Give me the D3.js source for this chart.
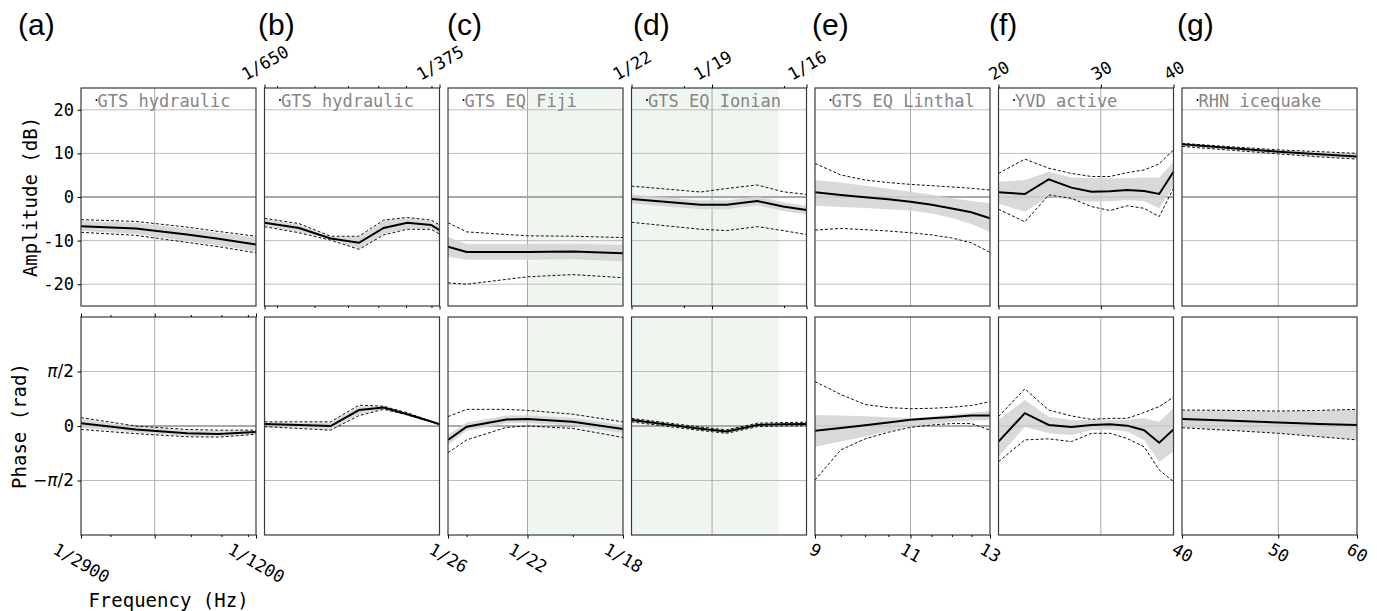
<!DOCTYPE html>
<html>
<head>
<meta charset="utf-8">
<script src="https://cdn.jsdelivr.net/npm/d3@7"></script>
<style>
body { margin: 0; background: #fff; }
svg { font-family: "DejaVu Sans Mono", monospace; }
</style>
</head>
<body>
<script>
// columns
var columnLabels = ["(a)", "(b)", "(c)", "(d)", "(e)", "(f)", "(g)"];
var titles = ["GTS hydraulic", "GTS hydraulic", "GTS EQ Fiji", "GTS EQ Ionian", "GTS EQ Linthal", "YVD active", "RHN icequake"];
var xDomains = [[1/2900, 1/1200], [1/650, 1/375], [1/26, 1/18], [1/22, 1/16], [9, 13], [20, 40], [40, 60]];
var majorTicks = [[1/2900, 1/2000, 1/1200], [1/650, 1/375], [1/26, 1/22, 1/18], [1/22, 1/19, 1/16], [9, 11, 13], [20, 30, 40], [40, 50, 60]];
var majorLabels = [["1/2900", "", "1/1200"], ["1/650", "1/375"], ["1/26", "1/22", "1/18"], ["1/22", "1/19", "1/16"], ["9", "11", "13"], ["20", "30", "40"], ["40", "50", "60"]];
var minorTicks = [[4e-4, 6e-4, 7e-4, 8e-4], [0.0016, 0.0018, 0.002, 0.0022, 0.0024, 0.0026], [0.04, 0.05], [0.05, 0.06], [9.5, 10, 10.5, 11.5, 12, 12.5], [], []];
var labelsOnTop = [false, true, false, true, false, true, false];
var greenBand = [1/22, 0.0594];   // Hz, shaded in (c) and (d)
var ampTicks = [-20, -10, 0, 10, 20];
var phaseTicks = [-Math.PI/2, 0, Math.PI/2];

// rows: [freq, mean, bandLo, bandHi, dashLo, dashHi]
var ampA = [
	[1/2900, -6.7, -7.8, -5.5, -8.1, -5.2],
	[1/2200, -7.2, -8.5, -5.9, -8.8, -5.6],
	[1/1700, -8.6, -10.1, -7.2, -10.4, -6.9],
	[1/1450, -9.6, -11.1, -8.2, -11.4, -7.9],
	[1/1200, -10.9, -12.5, -9.3, -12.8, -9.0]];
var phaseA = [
	[1/2900, 0.08, -0.06, 0.20, -0.10, 0.24],
	[1/2200, -0.10, -0.19, -0.02, -0.22, 0.00],
	[1/1700, -0.21, -0.29, -0.12, -0.31, -0.10],
	[1/1450, -0.23, -0.30, -0.14, -0.32, -0.12],
	[1/1200, -0.17, -0.22, -0.13, -0.24, -0.12]];
var ampB = [
	[1/650, -5.9, -6.6, -5.1, -6.8, -4.9],
	[1/583, -7.1, -8.0, -6.3, -8.2, -6.1],
	[1/528, -9.5, -9.7, -9.2, -9.9, -9.0],
	[1/483, -10.5, -11.8, -9.2, -12.0, -9.0],
	[1/447, -7.1, -8.5, -5.5, -8.7, -5.3],
	[1/415, -5.9, -7.2, -4.9, -7.4, -4.7],
	[1/385, -6.4, -7.2, -5.5, -7.4, -5.3],
	[1/375, -7.6, -8.3, -6.6, -8.5, -6.4]];
var phaseB = [
	[1/650, 0.06, 0.00, 0.10, -0.02, 0.12],
	[1/583, 0.03, -0.05, 0.10, -0.07, 0.12],
	[1/528, 0.00, -0.10, 0.10, -0.12, 0.12],
	[1/483, 0.46, 0.33, 0.57, 0.30, 0.60],
	[1/447, 0.53, 0.49, 0.56, 0.48, 0.57],
	[1/415, 0.34, 0.32, 0.37, 0.32, 0.38],
	[1/385, 0.13, 0.12, 0.14, 0.12, 0.14],
	[1/375, 0.05, 0.05, 0.05, 0.05, 0.05]];
var ampC = [
	[1/26, -11.4, -13.7, -9.2, -19.7, -5.9],
	[1/25, -12.6, -14.4, -10.8, -20.0, -8.0],
	[1/23, -12.6, -14.4, -10.8, -18.9, -8.6],
	[1/22, -12.6, -14.4, -10.8, -18.3, -8.9],
	[1/20, -12.5, -14.3, -10.7, -17.8, -9.0],
	[1/18, -12.9, -14.8, -11.0, -18.5, -9.3]];
var phaseC = [
	[1/26, -0.40, -0.55, -0.25, -0.77, 0.27],
	[1/25, -0.02, -0.14, 0.10, -0.40, 0.48],
	[1/23, 0.19, 0.08, 0.30, -0.04, 0.48],
	[1/22, 0.20, 0.09, 0.31, 0.00, 0.45],
	[1/20, 0.12, 0.01, 0.23, -0.07, 0.34],
	[1/18, -0.09, -0.20, 0.02, -0.33, 0.12]];
var ampD = [
	[1/22, -0.46, -1.5, 0.6, -5.8, 2.5],
	[1/19.4, -1.8, -2.8, -0.8, -7.4, 1.15],
	[1/18.5, -1.8, -2.8, -0.8, -7.7, 1.95],
	[1/17.5, -0.9, -1.9, 0.1, -6.8, 2.76],
	[1/16.7, -2.2, -3.2, -1.2, -7.7, 1.2],
	[1/16, -3.0, -4.0, -2.0, -8.6, 0.6]];
var phaseD = [
	[1/22, 0.17, 0.13, 0.21, 0.12, 0.22],
	[1/19.4, -0.08, -0.12, -0.04, -0.13, -0.03],
	[1/18.5, -0.16, -0.20, -0.12, -0.21, -0.11],
	[1/17.5, 0.03, -0.01, 0.07, -0.02, 0.08],
	[1/16.7, 0.05, 0.01, 0.09, 0.00, 0.10],
	[1/16, 0.06, 0.02, 0.10, 0.01, 0.11]];
var ampE = [
	[9, 1.07, -2.0, 3.9, -7.6, 7.7],
	[9.5, 0.46, -2.3, 3.3, -7.2, 5.06],
	[10, -0.08, -2.5, 2.6, -7.5, 3.9],
	[10.5, -0.54, -2.8, 1.9, -7.8, 3.3],
	[11, -1.07, -3.1, 1.2, -8.2, 2.9],
	[11.5, -1.76, -3.8, 0.5, -8.7, 2.6],
	[12, -2.65, -4.8, -0.3, -9.4, 2.3],
	[12.5, -3.5, -6.2, -0.9, -10.5, 2.0],
	[13, -4.9, -8.0, -1.4, -12.7, 1.6]];
var phaseE = [
	[9, -0.14, -0.60, 0.32, -1.56, 1.28],
	[9.5, -0.06, -0.45, 0.30, -0.69, 0.91],
	[10, 0.02, -0.30, 0.28, -0.37, 0.62],
	[10.5, 0.10, -0.15, 0.25, -0.18, 0.53],
	[11, 0.18, -0.02, 0.23, -0.04, 0.50],
	[11.5, 0.22, 0.05, 0.27, 0.03, 0.51],
	[12, 0.26, 0.12, 0.33, 0.07, 0.54],
	[12.5, 0.30, 0.15, 0.38, 0.07, 0.59],
	[13, 0.30, 0.17, 0.43, -0.12, 0.70]];
var ampF = [
	[20, 1.07, -1.5, 3.5, -2.8, 5.4],
	[22.2, 0.69, -3.4, 3.9, -5.7, 8.7],
	[24.4, 4.06, 0.1, 5.8, 0.46, 6.6],
	[26.7, 2.15, -0.7, 4.5, -0.3, 5.4],
	[28.9, 1.23, -1.1, 4.3, -2.2, 4.7],
	[31.1, 1.3, -1.0, 4.3, -3.1, 4.7],
	[33.3, 1.6, -0.7, 4.3, -2.0, 5.6],
	[35.6, 1.38, -1.0, 4.5, -2.6, 6.2],
	[37.8, 0.69, -2.6, 4.5, -4.5, 7.6],
	[40, 5.8, 2.4, 8.1, 2.0, 10.8]];
var phaseF = [
	[20, -0.45, -0.88, 0.17, -1.03, 0.27],
	[22.2, 0.37, -0.02, 0.75, -0.40, 1.07],
	[24.4, 0.03, -0.21, 0.27, -0.37, 0.46],
	[26.7, -0.03, -0.26, 0.17, -0.45, 0.29],
	[28.9, 0.03, -0.12, 0.17, -0.21, 0.19],
	[31.1, 0.05, -0.10, 0.17, -0.21, 0.22],
	[33.3, 0.01, -0.16, 0.17, -0.36, 0.22],
	[35.6, -0.12, -0.40, 0.22, -0.60, 0.39],
	[37.8, -0.48, -1.03, 0.12, -1.27, 0.56],
	[40, -0.10, -0.74, 0.51, -1.60, 0.83]];
var ampG = [
	[40, 12.1, 11.7, 12.2, 11.6, 12.3],
	[45, 11.2, 10.8, 11.4, 10.7, 11.5],
	[50, 10.4, 10.0, 10.7, 9.9, 10.8],
	[55, 9.8, 9.3, 10.3, 9.2, 10.4],
	[60, 9.3, 8.8, 9.9, 8.7, 10.0]];
var phaseG = [
	[40, 0.20, -0.04, 0.45, -0.05, 0.46],
	[45, 0.15, -0.12, 0.44, -0.13, 0.45],
	[50, 0.10, -0.20, 0.42, -0.21, 0.43],
	[55, 0.06, -0.30, 0.44, -0.31, 0.45],
	[60, 0.03, -0.39, 0.47, -0.40, 0.48]];

var ampData = [ampA, ampB, ampC, ampD, ampE, ampF, ampG];
var phaseData = [phaseA, phaseB, phaseC, phaseD, phaseE, phaseF, phaseG];

// layout
var W = 1377, H = 611;
var panelW = 175, colStep = 183.5, firstLeft = 81;
var rows = [{ top: 88, bottom: 306 }, { top: 317, bottom: 535 }];
var colLabelX = [18, 258, 447, 633, 812, 989, 1177];
var tickFs = 17;
var mono = "'DejaVu Sans Mono', monospace";

var svg = d3.select("body").append("svg")
	.attr("width", W)
	.attr("height", H);

var yAmp = d3.scaleLinear().domain([-25, 25]).range([rows[0].bottom, rows[0].top]);
var yPh = d3.scaleLinear().domain([-Math.PI, Math.PI]).range([rows[1].bottom, rows[1].top]);

function rotatedLabels(axisG, above) {
	axisG.selectAll(".tick text").each(function(){
		var t = d3.select(this);
		var w = this.getComputedTextLength();
		var a = 30 * Math.PI / 180;
		var bh = w * Math.sin(a) + 0.75 * tickFs * Math.cos(a);
		var cy = above ? -7 - bh / 2 : 7 + bh / 2;
		t.attr("x", 0).attr("y", 0).attr("dy", "0.36em")
			.attr("text-anchor", "middle")
			.attr("transform", "translate(0," + cy + ") rotate(" + (above ? -30 : 30) + ")");
	});
}

columnLabels.forEach(function(lab, i){

	var left = firstLeft + i * colStep,
		right = left + panelW;

	var x = d3.scaleLog().domain(xDomains[i]).range([left, right]);

	[0, 1].forEach(function(r){

		var y = r === 0 ? yAmp : yPh,
			data = r === 0 ? ampData[i] : phaseData[i],
			top = rows[r].top, bot = rows[r].bottom,
			yt = r === 0 ? ampTicks : phaseTicks;

		var clipId = "clip" + i + "_" + r;
		svg.append("clipPath").attr("id", clipId)
			.append("rect").attr("x", left).attr("y", top).attr("width", panelW).attr("height", bot - top);

		var g = svg.append("g").attr("clip-path", "url(#" + clipId + ")");

		// green band
		if (i === 2 || i === 3) {
			var x0 = Math.max(left, x(greenBand[0])), x1 = Math.min(right, x(greenBand[1]));
			g.append("rect").attr("x", x0).attr("y", top).attr("width", x1 - x0).attr("height", bot - top)
				.attr("fill", "#eff6ef");
		}

		// grid
		yt.forEach(function(v){
			g.append("line")
				.attr("x1", left).attr("x2", right).attr("y1", y(v)).attr("y2", y(v))
				.attr("stroke", v === 0 ? "#a9a9a9" : "#bdbdbd")
				.attr("stroke-width", v === 0 ? 2 : 1);
		});
		majorTicks[i].forEach(function(v){
			if (v <= xDomains[i][0] * 1.0001 || v >= xDomains[i][1] * 0.9999) return;
			g.append("line")
				.attr("x1", x(v)).attr("x2", x(v)).attr("y1", top).attr("y2", bot)
				.attr("stroke", "#a9a9a9").attr("stroke-width", 1);
		});

		// band
		var area = d3.area()
			.x(function(d){ return x(d[0]); })
			.y0(function(d){ return y(d[2]); })
			.y1(function(d){ return y(d[3]); });
		g.append("path").datum(data).attr("d", area)
			.attr("fill", "#d2d2d2").attr("fill-opacity", 0.85);

		[4, 5].forEach(function(k){
			var ln = d3.line().x(function(d){ return x(d[0]); }).y(function(d){ return y(d[k]); });
			g.append("path").datum(data).attr("d", ln)
				.attr("fill", "none").attr("stroke", "#111").attr("stroke-width", 1)
				.attr("stroke-dasharray", "3,2");
		});

		var meanLine = d3.line().x(function(d){ return x(d[0]); }).y(function(d){ return y(d[1]); });
		g.append("path").datum(data).attr("d", meanLine)
			.attr("fill", "none").attr("stroke", "#000").attr("stroke-width", 2);

		// frame
		svg.append("rect").attr("x", left).attr("y", top).attr("width", panelW).attr("height", bot - top)
			.attr("fill", "none").attr("stroke", "#3a3a3a").attr("stroke-width", 1.2);

		// title
		if (r === 0) {
			svg.append("circle").attr("cx", left + 15.5).attr("cy", 100).attr("r", 1).attr("fill", "#000");
			svg.append("text").attr("x", left + 16.5).attr("y", 107)
				.style("font-family", mono)
				.attr("font-size", tickFs).attr("fill", "#858585")
				.text(titles[i]);
		}

		// y axis for first column
		if (i === 0) {
			var ya = svg.append("g")
				.attr("transform", "translate(" + left + ",0)")
				.call(d3.axisLeft(y).tickValues(yt).tickSize(3.5).tickPadding(3.5)
					.tickFormat(function(d){ return r === 0 ? String(d) : ""; }));
			ya.select(".domain").remove();
			ya.attr("font-size", tickFs).attr("font-family", null).attr("color", "#000");
			ya.selectAll(".tick text").style("font-family", mono);
			if (r === 1) {
				ya.selectAll(".tick text").each(function(d){
					var t = d3.select(this).style("font-family", "'DejaVu Sans', sans-serif");
					if (d === 0) { t.style("font-family", mono).text("0"); return; }
					t.append("tspan").text(d < 0 ? "\u2212" : "");
					t.append("tspan").attr("font-style", "italic").text("\u03c0");
					t.append("tspan").text("/2");
				});
			}
		}
	});

	// x axes
	var fmt = function(d, k){ return majorLabels[i][k]; };
	var blank = function(){ return ""; };

	if (labelsOnTop[i]) {
		var gt = svg.append("g").attr("transform", "translate(0," + rows[0].top + ")");
		gt.call(d3.axisTop(x).tickValues(majorTicks[i]).tickFormat(fmt).tickSize(3.5).tickPadding(0));
		gt.append("g").call(d3.axisTop(x).tickValues(minorTicks[i]).tickFormat(blank).tickSize(2));
		gt.attr("font-size", tickFs).attr("font-family", null).attr("color", "#000");
		gt.selectAll("text").attr("font-family", null).style("font-family", mono);
		gt.selectAll(".domain").remove();
		rotatedLabels(gt, true);

		var gb = svg.append("g").attr("transform", "translate(0," + rows[0].bottom + ")");
		gb.call(d3.axisBottom(x).tickValues(majorTicks[i]).tickFormat(blank).tickSize(3.5));
		gb.append("g").call(d3.axisBottom(x).tickValues(minorTicks[i]).tickFormat(blank).tickSize(2));
		gb.attr("color", "#000");
		gb.selectAll(".domain").remove();
	} else {
		var gx = svg.append("g").attr("transform", "translate(0," + rows[1].bottom + ")");
		gx.call(d3.axisBottom(x).tickValues(majorTicks[i]).tickFormat(fmt).tickSize(3.5).tickPadding(0));
		gx.append("g").call(d3.axisBottom(x).tickValues(minorTicks[i]).tickFormat(blank).tickSize(2));
		gx.attr("font-size", tickFs).attr("font-family", null).attr("color", "#000");
		gx.selectAll("text").attr("font-family", null).style("font-family", mono);
		gx.selectAll(".domain").remove();
		rotatedLabels(gx, false);

		if (i === 0) {
			var gu = svg.append("g").attr("transform", "translate(0," + rows[1].top + ")");
			gu.call(d3.axisTop(x).tickValues(majorTicks[i]).tickFormat(blank).tickSize(3.5));
			gu.append("g").call(d3.axisTop(x).tickValues(minorTicks[i]).tickFormat(blank).tickSize(2));
			gu.attr("color", "#000");
			gu.selectAll(".domain").remove();
		}
	}

	// column label
	svg.append("text")
		.attr("x", colLabelX[i]).attr("y", 35)
		.style("font-family", "'Liberation Sans', Arial, sans-serif")
		.attr("font-size", 30)
		.text(lab);
});

// axis titles
svg.append("text")
	.attr("transform", "translate(30," + yAmp(0) + ") rotate(-90)")
	.attr("text-anchor", "middle").attr("dy", "0.36em")
	.style("font-family", mono)
	.attr("font-size", 19)
	.text("Amplitude (dB)");

svg.append("text")
	.attr("transform", "translate(19.5," + yPh(0) + ") rotate(-90)")
	.attr("text-anchor", "middle").attr("dy", "0.36em")
	.style("font-family", mono)
	.attr("font-size", 19)
	.text("Phase (rad)");

svg.append("text")
	.attr("x", firstLeft + panelW / 2).attr("y", 600)
	.attr("text-anchor", "middle").attr("dy", "0.36em")
	.style("font-family", mono)
	.attr("font-size", 19)
	.text("Frequency (Hz)");
</script>
</body>
</html>
